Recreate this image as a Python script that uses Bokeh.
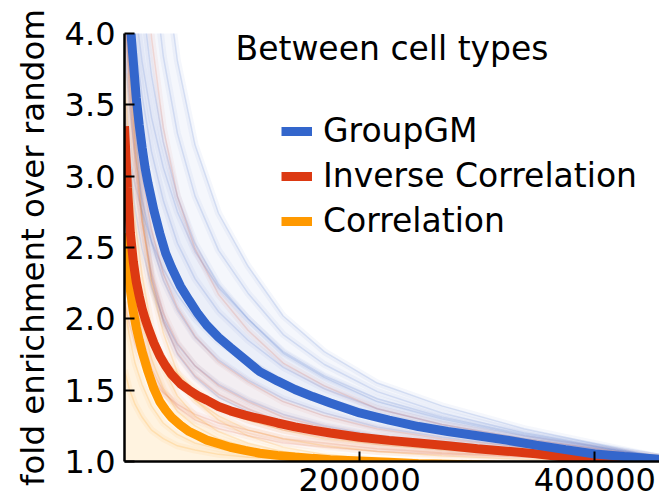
from bokeh.plotting import figure
from bokeh.models import Range1d, FixedTicker, PrintfTickFormatter, BasicTickFormatter, Legend, LegendItem, Label
from bokeh.embed import file_html
from bokeh.resources import INLINE

# ---- data ----
x_main = [0, 2500, 5000, 7500, 10000, 12500, 15000, 17500, 20000, 25000, 30000, 35000,
          40000, 47500, 55000, 62500, 70000, 80000, 90000, 102500, 115000, 130000,
          145000, 160000, 175000, 200000, 225000, 250000, 275000, 300000, 325000,
          350000, 375000, 400000, 425000, 455000]
groupgm = [4.6, 4.32, 4.05, 3.8, 3.55, 3.36, 3.2, 3.06, 2.95, 2.76, 2.6, 2.46,
           2.36, 2.23, 2.13, 2.035, 1.955, 1.87, 1.80, 1.715, 1.63, 1.565,
           1.505, 1.455, 1.41, 1.34, 1.29, 1.245, 1.21, 1.18, 1.15,
           1.115, 1.083, 1.053, 1.035, 1.015]
inverse_corr = [3.35, 2.92, 2.6, 2.4, 2.26, 2.16, 2.07, 2.0, 1.94, 1.83, 1.74, 1.67,
                1.61, 1.545, 1.50, 1.46, 1.43, 1.385, 1.355, 1.325, 1.30, 1.27,
                1.243, 1.22, 1.20, 1.17, 1.148, 1.13, 1.11, 1.09, 1.072,
                1.054, 1.03, 1.008, 0.995, 0.99]
correlation = [2.6, 2.38, 2.2, 2.05, 1.94, 1.85, 1.77, 1.7, 1.63, 1.51, 1.42, 1.36,
               1.31, 1.255, 1.21, 1.18, 1.15, 1.125, 1.10, 1.078, 1.058, 1.043,
               1.032, 1.022, 1.013, 1.004, 0.995, 0.985, 0.98, 0.975, 0.97,
               0.97, 0.97, 0.97, 0.97, 0.97]

# individual (faint) runs behind the averages
x_faint = [0, 4000, 9000, 15000, 23000, 33000, 45000, 60000, 80000, 105000, 135000,
           170000, 215000, 270000, 340000, 455000]
groupgm_runs = [
    [6.0, 4.33, 3.35, 2.74, 2.29, 1.98, 1.75, 1.59, 1.45, 1.35, 1.26, 1.2, 1.14, 1.1, 1.06, 1.01],
    [3.5, 3.12, 2.77, 2.49, 2.22, 2.0, 1.82, 1.67, 1.54, 1.43, 1.33, 1.25, 1.18, 1.13, 1.08, 1.01],
    [3.88, 3.5, 3.14, 2.83, 2.53, 2.27, 2.06, 1.87, 1.71, 1.57, 1.44, 1.34, 1.24, 1.17, 1.1, 1.02],
    [3.33, 3.14, 2.94, 2.75, 2.54, 2.35, 2.17, 2.0, 1.84, 1.7, 1.55, 1.43, 1.32, 1.23, 1.14, 1.02],
    [4.1, 3.74, 3.4, 3.09, 2.78, 2.5, 2.26, 2.05, 1.86, 1.71, 1.54, 1.42, 1.3, 1.22, 1.13, 1.02],
    [4.83, 4.38, 3.95, 3.56, 3.17, 2.83, 2.53, 2.28, 2.05, 1.85, 1.66, 1.51, 1.37, 1.26, 1.16, 1.02],
    [5.0, 4.59, 4.18, 3.8, 3.41, 3.06, 2.75, 2.47, 2.22, 2.0, 1.77, 1.6, 1.44, 1.31, 1.19, 1.03],
    [6.2, 5.48, 4.82, 4.25, 3.71, 3.24, 2.86, 2.53, 2.24, 2.0, 1.76, 1.59, 1.42, 1.3, 1.18, 1.03],
    [9.1, 7.6, 6.37, 5.39, 4.54, 3.84, 3.3, 2.86, 2.48, 2.18, 1.89, 1.68, 1.49, 1.34, 1.2, 1.03],
    [14.3, 11.0, 8.62, 6.93, 5.57, 4.56, 3.81, 3.22, 2.74, 2.37, 2.02, 1.77, 1.55, 1.39, 1.23, 1.03],
]
inverse_runs = [
    [2.12, 1.97, 1.82, 1.7, 1.58, 1.48, 1.4, 1.33, 1.27, 1.22, 1.16, 1.13, 1.09, 1.06, 1.04, 1.0],
    [3.5, 2.67, 2.18, 1.87, 1.65, 1.49, 1.38, 1.29, 1.23, 1.18, 1.13, 1.1, 1.07, 1.05, 1.03, 1.0],
    [3.0, 2.64, 2.33, 2.09, 1.88, 1.71, 1.57, 1.46, 1.37, 1.29, 1.22, 1.17, 1.12, 1.09, 1.05, 1.01],
    [5.2, 4.0, 3.21, 2.68, 2.27, 1.98, 1.76, 1.6, 1.47, 1.37, 1.27, 1.21, 1.15, 1.1, 1.06, 1.01],
    [4.33, 3.63, 3.08, 2.67, 2.32, 2.04, 1.83, 1.67, 1.53, 1.42, 1.31, 1.24, 1.17, 1.12, 1.07, 1.01],
    [4.5, 3.92, 3.41, 3.0, 2.63, 2.32, 2.08, 1.88, 1.7, 1.56, 1.42, 1.32, 1.23, 1.16, 1.1, 1.02],
    [8.86, 7.11, 5.78, 4.79, 3.97, 3.34, 2.86, 2.49, 2.17, 1.92, 1.69, 1.53, 1.37, 1.26, 1.16, 1.03],
]
correlation_runs = [
    [1.64, 1.51, 1.40, 1.31, 1.22, 1.16, 1.11, 1.08, 1.05, 1.03, 1.02, 1.01, 1.0, 0.99, 0.98, 0.98],
    [2.12, 1.89, 1.69, 1.54, 1.39, 1.27, 1.19, 1.13, 1.09, 1.05, 1.03, 1.01, 1.0, 0.99, 0.98, 0.98],
    [3.08, 2.65, 2.29, 2.0, 1.72, 1.51, 1.35, 1.25, 1.16, 1.1, 1.05, 1.02, 1.0, 0.99, 0.98, 0.98],
    [3.72, 3.16, 2.68, 2.31, 1.94, 1.66, 1.46, 1.32, 1.21, 1.13, 1.07, 1.03, 1.0, 0.99, 0.98, 0.98],
    [2.6, 2.42, 2.24, 2.06, 1.88, 1.72, 1.56, 1.43, 1.32, 1.22, 1.16, 1.11, 1.07, 1.04, 1.015, 0.99],
    [2.28, 2.18, 2.07, 1.96, 1.84, 1.72, 1.62, 1.5, 1.38, 1.29, 1.22, 1.16, 1.12, 1.08, 1.05, 1.03],
    [4.5, 3.8, 3.2, 2.7, 2.25, 1.9, 1.62, 1.43, 1.29, 1.18, 1.1, 1.05, 1.01, 0.99, 0.98, 0.98],
]
y_ticks = [1.0, 1.5, 2.0, 2.5, 3.0, 3.5, 4.0]
x_ticks = [200000, 400000]
series_names = ["GroupGM", "Inverse Correlation", "Correlation"]
legend_title = "Between cell types"

BLUE, RED, ORANGE = "#3366cc", "#dc3912", "#ff9900"
FONT = "DejaVu Sans"

p = figure(width=659, height=504, output_backend="svg", toolbar_location=None,
           x_range=Range1d(0, 455000), y_range=Range1d(1.0, 4.0),
           min_border_left=124, min_border_right=0, min_border_top=33, min_border_bottom=43)
p.outline_line_color = None
p.xgrid.visible = False
p.ygrid.visible = False
p.background_fill_color = "white"
p.border_fill_color = "white"

# soft washes spanned by the runs
p.varea(x=x_faint, y1=groupgm_runs[0], y2=groupgm_runs[-1], fill_color=BLUE, fill_alpha=0.05)
p.varea(x=x_faint, y1=groupgm_runs[2], y2=groupgm_runs[7], fill_color=BLUE, fill_alpha=0.05)
p.varea(x=x_faint, y1=inverse_runs[1], y2=inverse_runs[5], fill_color=RED, fill_alpha=0.045)
p.varea(x=x_faint, y1=1.0, y2=correlation_runs[3], fill_color=ORANGE, fill_alpha=0.07)
p.varea(x=x_faint, y1=1.0, y2=correlation_runs[1], fill_color=ORANGE, fill_alpha=0.05)

# faint individual runs
for run in groupgm_runs:
    p.line(x_faint, run, line_color=BLUE, line_alpha=0.05, line_width=7)
    p.line(x_faint, run, line_color=BLUE, line_alpha=0.15, line_width=1.5)
for run in inverse_runs:
    p.line(x_faint, run, line_color=RED, line_alpha=0.045, line_width=7)
    p.line(x_faint, run, line_color=RED, line_alpha=0.13, line_width=1.5)
for run in correlation_runs:
    p.line(x_faint, run, line_color=ORANGE, line_alpha=0.06, line_width=7)
    p.line(x_faint, run, line_color=ORANGE, line_alpha=0.17, line_width=1.5)

# averages
r_or = p.line(x_main, correlation, line_color=ORANGE, line_width=9)
r_red = p.line(x_main, inverse_corr, line_color=RED, line_width=9)
r_blue = p.line(x_main, groupgm, line_color=BLUE, line_width=9)

# axes
for ax in (p.xaxis[0], p.yaxis[0]):
    ax.axis_line_color = "black"
    ax.axis_line_width = 2.5
    ax.major_tick_line_color = "black"
    ax.major_tick_line_width = 2
    ax.major_tick_in = 10
    ax.major_tick_out = 0
    ax.minor_tick_line_color = None
    ax.major_label_text_font = FONT
    ax.major_label_text_font_size = "32px"
    ax.major_label_text_color = "black"

p.xaxis.ticker = FixedTicker(ticks=x_ticks)
p.xaxis.formatter = BasicTickFormatter(use_scientific=False)
p.xaxis.major_label_standoff = 6
p.yaxis.ticker = FixedTicker(ticks=y_ticks)
p.yaxis.formatter = PrintfTickFormatter(format="%.1f")
p.yaxis.major_label_standoff = 9
p.yaxis.axis_label = "fold enrichment over random"
p.yaxis.axis_label_text_font = FONT
p.yaxis.axis_label_text_font_size = "32.5px"
p.yaxis.axis_label_text_font_style = "normal"
p.yaxis.axis_label_text_color = "black"
p.yaxis.axis_label_standoff = 10

legend = Legend(items=[LegendItem(label=series_names[0], renderers=[r_blue]),
                       LegendItem(label=series_names[1], renderers=[r_red]),
                       LegendItem(label=series_names[2], renderers=[r_or])],
                location=(157, 221), padding=0, margin=0, spacing=6,
                glyph_width=31, glyph_height=30, label_standoff=11,
                label_text_font=FONT, label_text_font_size="33px",
                label_text_color="black",
                border_line_color=None, background_fill_alpha=0)
p.add_layout(legend, "center")

title = Label(x=111, y=413, x_units="screen", y_units="screen", text=legend_title,
              text_font=FONT, text_font_size="33px", text_baseline="alphabetic",
              text_color="black")
p.add_layout(title)

open("out.html", "w").write(file_html(p, INLINE))
